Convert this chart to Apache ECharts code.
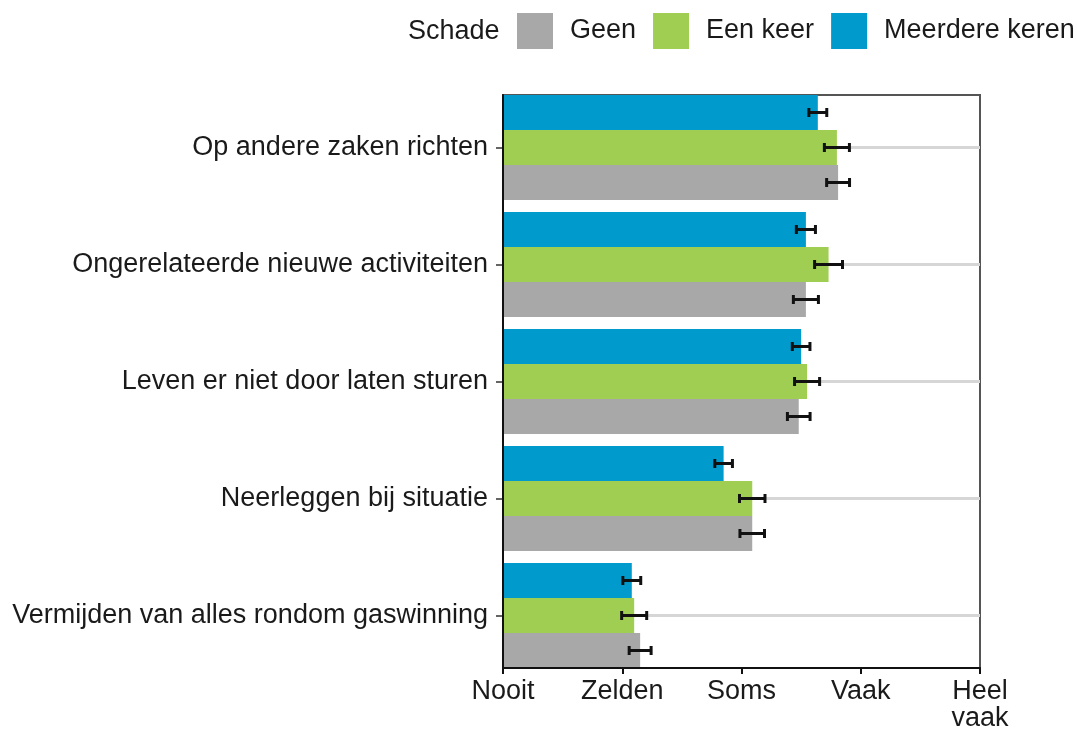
<!DOCTYPE html>
<html>
<head>
<meta charset="utf-8">
<script src="https://cdn.jsdelivr.net/npm/echarts@6/dist/echarts.min.js"></script>
<style>
  html, body { margin: 0; padding: 0; background: #fff; }
  #chart { width: 1077px; height: 731px; }
</style>
</head>
<body>
<div id="chart"></div>
<script>
  // categories, top to bottom
  const categories = [
    'Op andere zaken richten',
    'Ongerelateerde nieuwe activiteiten',
    'Leven er niet door laten sturen',
    'Neerleggen bij situatie',
    'Vermijden van alles rondom gaswinning'
  ]
  const tickLabels = ['Nooit', 'Zelden', 'Soms', 'Vaak', 'Heel\nvaak']

  // mean scores (1 = Nooit ... 5 = Heel vaak)
  const meerdere = [3.64, 3.54, 3.50, 2.85, 2.08]
  const eenKeer = [3.80, 3.73, 3.55, 3.09, 2.10]
  const geen = [3.81, 3.54, 3.48, 3.09, 2.15]

  // half width of the error bars
  const meerdereErr = [0.075, 0.08, 0.074, 0.074, 0.075]
  const eenKeerErr = [0.105, 0.117, 0.105, 0.107, 0.105]
  const geenErr = [0.096, 0.105, 0.095, 0.103, 0.092]

  const colors = {
    geen: '#a8a8a8',
    een: '#9fce52',
    meer: '#009acd'
  }
  const fontFamily = '"Liberation Sans", Arial, sans-serif'
  const textColor = '#1a1a1a'
  const barCategoryGap = 0.1026

  const chart = echarts.init(document.getElementById('chart'))

  // error bars, slot 0 = top bar in a group
  function errorSeries(name, values, errs, slot) {
    return {
      name,
      type: 'custom',
      xAxisIndex: 1,
      yAxisIndex: 1,
      z: 5,
      encode: { x: [0, 1], y: 2 },
      data: values.map((v, i) => [v - errs[i], v + errs[i], i]),
      renderItem(params, api) {
        const band = api.size([0, 1])[1]
        const barW = band * (1 - barCategoryGap) / 3
        const dy = (slot - 1) * barW
        const lo = api.coord([api.value(0), api.value(2)])
        const hi = api.coord([api.value(1), api.value(2)])
        const y = lo[1] + dy
        const cap = 4.5
        const style = { stroke: '#111', lineWidth: 3 }
        return {
          type: 'group',
          children: [
            { type: 'line', shape: { x1: lo[0], y1: y, x2: hi[0], y2: y }, style },
            { type: 'line', shape: { x1: lo[0], y1: y - cap, x2: lo[0], y2: y + cap }, style },
            { type: 'line', shape: { x1: hi[0], y1: y - cap, x2: hi[0], y2: y + cap }, style }
          ]
        }
      }
    }
  }

  chart.setOption({
    animation: false,
    title: {
      text: 'Schade',
      left: 408,
      top: 18,
      padding: 0,
      textStyle: { fontFamily, fontSize: 27, fontWeight: 'normal', color: textColor, lineHeight: 28 }
    },
    legend: {
      data: ['Geen', 'Een keer', 'Meerdere keren'],
      left: 517,
      top: 13,
      width: 700,
      padding: 0,
      itemWidth: 36,
      itemHeight: 36,
      itemGap: 17,
      icon: 'rect',
      textStyle: { fontFamily, fontSize: 27, color: textColor, padding: [0, 0, 0, 12] }
    },
    grid: [
      // plot box with the axes
      { left: 503, right: 97, top: 95, bottom: 63, show: true, borderColor: '#555', borderWidth: 2, outerBoundsMode: 'none' },
      // bars, one band per category with no outer padding
      { left: 503, right: 97, top: 89, bottom: 57, outerBoundsMode: 'none' }
    ],
    xAxis: [
      {
        gridIndex: 0,
        type: 'value',
        min: 1,
        max: 5,
        interval: 1,
        z: 10,
        axisLine: { show: true, lineStyle: { color: '#111', width: 2 } },
        axisTick: { show: true, length: 6, lineStyle: { color: '#111', width: 2 } },
        splitLine: { show: false },
        axisLabel: {
          margin: 10,
          fontFamily,
          fontSize: 27,
          lineHeight: 27,
          color: textColor,
          formatter: (v) => tickLabels[Math.round(v) - 1]
        }
      },
      { gridIndex: 1, type: 'value', min: 1, max: 5, show: false }
    ],
    yAxis: [
      {
        gridIndex: 0,
        type: 'value',
        min: 0,
        max: 1,
        z: 10,
        axisLine: { show: true, lineStyle: { color: '#111', width: 2 } },
        axisTick: { show: false },
        axisLabel: { show: false },
        splitLine: { show: false }
      },
      {
        gridIndex: 1,
        type: 'category',
        inverse: true,
        data: categories,
        axisLine: { show: false },
        axisTick: { show: true, alignWithLabel: true, length: 7, lineStyle: { color: '#333', width: 1.5 } },
        axisLabel: { margin: 15, fontFamily, fontSize: 27, color: textColor }
      }
    ],
    series: [
      {
        name: 'gridlines',
        type: 'custom',
        xAxisIndex: 1,
        yAxisIndex: 1,
        z: 1,
        silent: true,
        encode: { x: [0, 1], y: 2 },
        data: categories.map((c, i) => [1, 5, i]),
        renderItem(params, api) {
          const a = api.coord([api.value(0), api.value(2)])
          const b = api.coord([api.value(1), api.value(2)])
          return {
            type: 'line',
            shape: { x1: a[0], y1: a[1], x2: b[0], y2: b[1] },
            style: { stroke: '#d6d6d6', lineWidth: 3 }
          }
        }
      },
      {
        name: 'Meerdere keren',
        type: 'bar',
        xAxisIndex: 1,
        yAxisIndex: 1,
        z: 2,
        barGap: 0,
        barCategoryGap: (barCategoryGap * 100) + '%',
        itemStyle: { color: colors.meer },
        data: meerdere
      },
      {
        name: 'Een keer',
        type: 'bar',
        xAxisIndex: 1,
        yAxisIndex: 1,
        z: 2,
        barGap: 0,
        barCategoryGap: (barCategoryGap * 100) + '%',
        itemStyle: { color: colors.een },
        data: eenKeer
      },
      {
        name: 'Geen',
        type: 'bar',
        xAxisIndex: 1,
        yAxisIndex: 1,
        z: 2,
        barGap: 0,
        barCategoryGap: (barCategoryGap * 100) + '%',
        itemStyle: { color: colors.geen },
        data: geen
      },
      errorSeries('err-meerdere', meerdere, meerdereErr, 0),
      errorSeries('err-een', eenKeer, eenKeerErr, 1),
      errorSeries('err-geen', geen, geenErr, 2)
    ]
  })
</script>
</body>
</html>
